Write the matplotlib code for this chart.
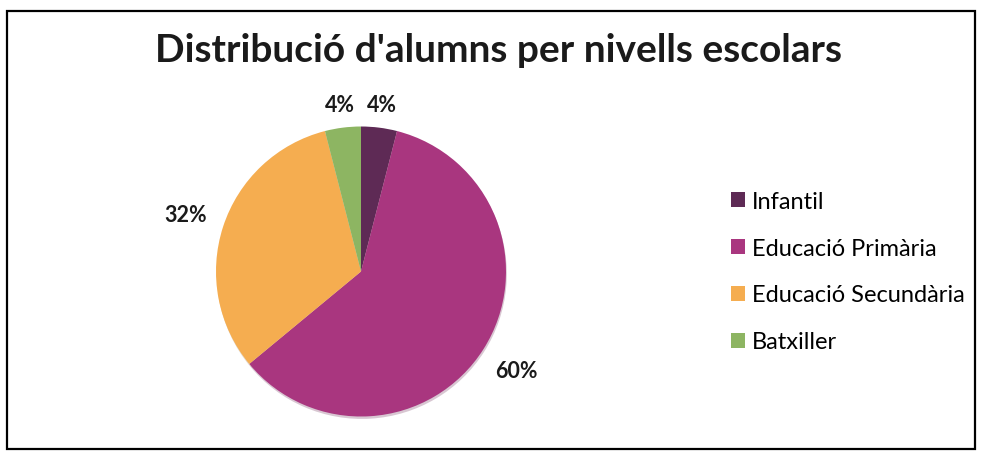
import matplotlib
matplotlib.use("Agg")
import matplotlib.pyplot as plt
import numpy as np
from matplotlib.patches import Rectangle

categories = ["Infantil", "Educació Primària", "Educació Secundària", "Batxiller"]
values = [4, 60, 32, 4]
title = "Distribució d'alumns per nivells escolars"

colors = ["#5E2A55", "#A9367F", "#F5AD50", "#8DB562"]
label_dist = [1.16, 1.27, 1.27, 1.16]

plt.rcParams['font.family'] = ['Lato', 'DejaVu Sans']

W, H = 983, 456
fig = plt.figure(figsize=(W / 100, H / 100), dpi=100)
fig.patch.set_facecolor("white")

# frame
fig.add_artist(Rectangle((7 / W, 6 / H), 968 / W, 438 / H, transform=fig.transFigure,
                         fill=False, edgecolor="black", linewidth=1.6))

fig.text(498 / W, 1 - 50 / H, title, ha="center", va="center",
         fontsize=28, fontweight="bold", color="#1a1a1a")

cx, cy, r = 361, 272.5, 145
pad = 1.6
ax = fig.add_axes([(cx - r * pad) / W, (H - cy - r * pad) / H,
                   2 * r * pad / W, 2 * r * pad / H])
wedges, _ = ax.pie(values, colors=colors, startangle=90, counterclock=False,
                   wedgeprops=dict(linewidth=0),
                   shadow=dict(ox=0.004, oy=-0.012, shade=0.4, alpha=0.25))
ax.set_xlim(-pad, pad)
ax.set_ylim(-pad, pad)
ax.axis("off")

total = sum(values)
for w, v, d in zip(wedges, values, label_dist):
    ang = np.deg2rad((w.theta1 + w.theta2) / 2)
    ax.text(d * np.cos(ang), d * np.sin(ang), f"{v / total * 100:.0f}%",
            ha="center", va="center", fontsize=15.5, fontweight="bold", color="#1a1a1a")

handles = [Rectangle((0, 0), 1, 1, facecolor=c, edgecolor="none") for c in colors]
fig.legend(handles, categories, loc="center left", bbox_to_anchor=(731 / W, 1 - 272.5 / H),
           frameon=False, fontsize=17, handlelength=0.6, handleheight=0.6,
           handletextpad=0.3, labelspacing=1.1, borderaxespad=0, borderpad=0)

fig.savefig("out.png", dpi=100)
